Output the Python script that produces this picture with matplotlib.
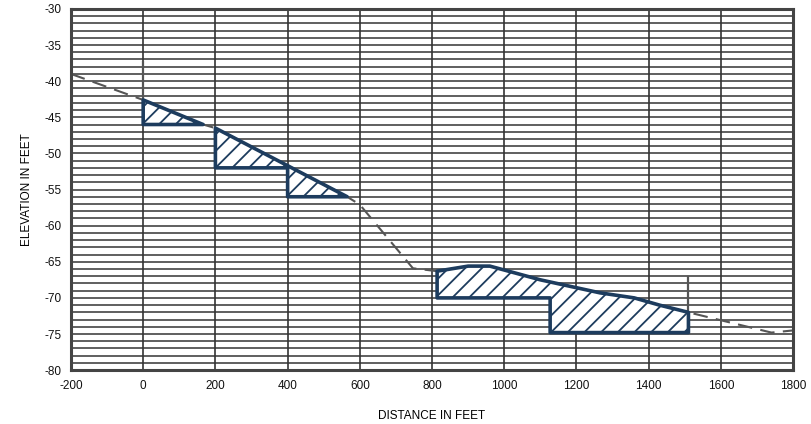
import matplotlib
matplotlib.use("Agg")
import matplotlib.pyplot as plt
import numpy as np

# ground profile (distance ft, elevation ft)
terrain_x = [-200, 0, 166, 200, 400, 565, 600, 747, 814, 900, 960, 1100, 1265, 1360, 1430, 1510, 1740, 1800]
terrain_y = [-39.0, -42.6, -46.0, -46.5, -51.7, -56.0, -57.1, -65.9, -66.3, -65.6, -65.6, -67.5, -69.3, -70.0, -71.0, -72.0, -74.8, -74.5]

# excavation sections: start, end and the bottom outline (right to left)
cut_start = [0, 200, 400, 814]
cut_end = [166, 400, 565, 1510]
cut_bottom_x = [[166, 0], [400, 200], [565, 400], [1510, 1127, 1127, 814]]
cut_bottom_y = [[-46, -46], [-52, -52], [-56, -56], [-74.8, -74.8, -70, -70]]

# survey marker posts
post_x = [0, 1510]
post_top = [-37.3, -67.1]

plt.rcParams['font.family'] = ['Liberation Sans', 'DejaVu Sans']
plt.rcParams['axes.unicode_minus'] = False
plt.rcParams['hatch.color'] = '#6b5a4a'
plt.rcParams['hatch.linewidth'] = 1.3

fig = plt.figure(figsize=(8.11, 4.24), dpi=100)
ax = fig.add_axes([0.0875, 0.127, 0.8905, 0.852])

ax.set_xlim(-200, 1800)
ax.set_ylim(-80, -30)

# graph paper grid
for yy in np.arange(-79, -30, 1):
    ax.axhline(yy, color='#444444', lw=1.2, zorder=1)
for xx in np.arange(0, 1800, 200):
    ax.axvline(xx, color='#333333', lw=1.2, zorder=1)

ax.plot(terrain_x, terrain_y, color='#555555', lw=1.5, ls=(0, (7, 4)), zorder=2)

for px, pt in zip(post_x, post_top):
    ground = np.interp(px, terrain_x, terrain_y)
    ax.plot([px, px], [ground, pt], color='#555555', lw=1.6, zorder=2)

for xs, xe, bx, by in zip(cut_start, cut_end, cut_bottom_x, cut_bottom_y):
    tx = [xs] + [x for x in terrain_x if xs < x < xe] + [xe]
    ty = list(np.interp(tx, terrain_x, terrain_y))
    ax.fill(tx + bx, ty + by, facecolor='white', edgecolor='#1d3c5e',
            hatch='//', lw=2.6, joinstyle='round', zorder=3)

for s in ax.spines.values():
    s.set_color('#444444')
    s.set_linewidth(2.2)

ax.set_xticks(np.arange(-200, 1801, 200))
ax.set_yticks(np.arange(-80, -29, 5))
ax.tick_params(length=0, labelsize=8.5, pad=7, colors='#111111')
ax.set_xlabel('DISTANCE IN FEET', fontsize=8.5, labelpad=13, color='#000000')
ax.set_ylabel('ELEVATION IN FEET', fontsize=8.5, labelpad=8, color='#000000')

fig.savefig('out.png', dpi=100)
